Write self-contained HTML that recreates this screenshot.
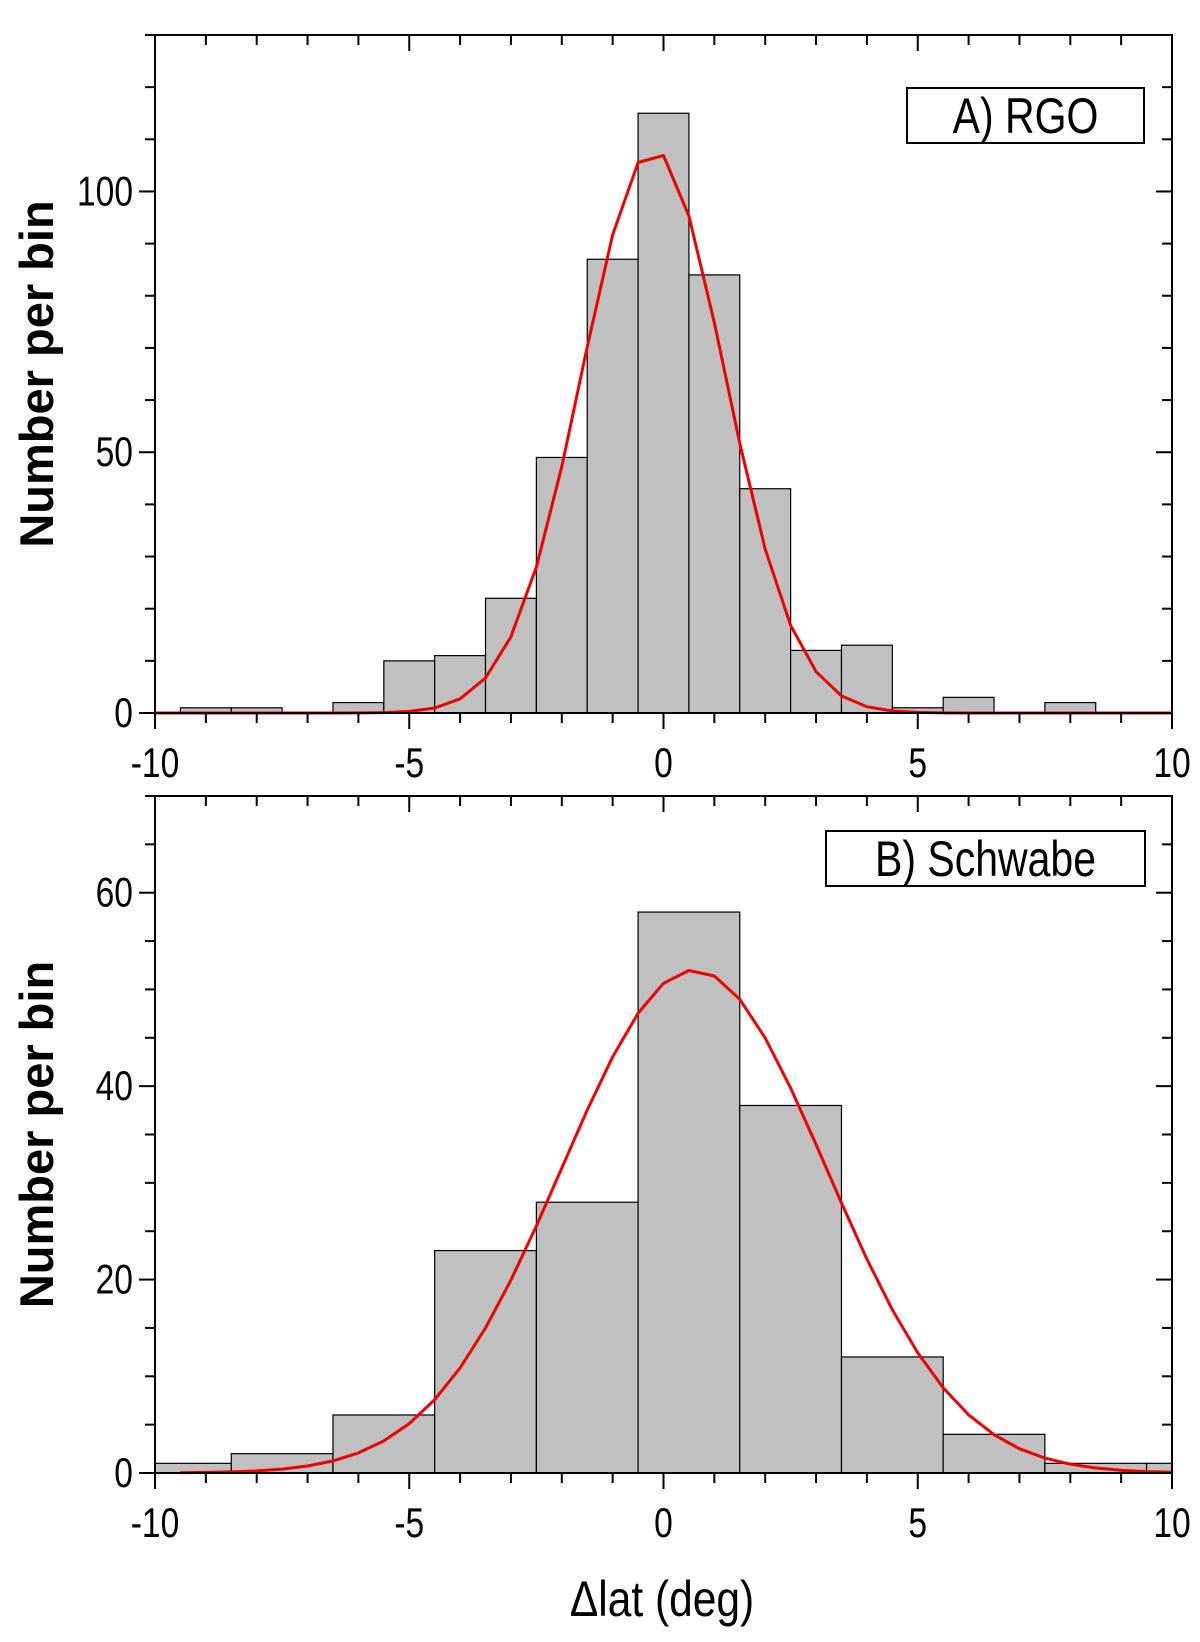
<!DOCTYPE html>
<html><head><meta charset="utf-8"><style>
html,body{margin:0;padding:0;background:#fff;}
svg{display:block;}
text{font-family:"Liberation Sans Narrow","Liberation Sans",sans-serif;fill:#000;}
.yt{font-family:"Liberation Sans",sans-serif;font-weight:bold;font-size:47px;}
</style></head><body>
<svg id="chart" width="1200" height="1642" viewBox="0 0 1200 1642" xmlns="http://www.w3.org/2000/svg"></svg>
<script>
// Panel A (RGO) data
const rgoCenters = [-9,-8,-7,-6,-5,-4,-3,-2,-1,0,1,2,3,4,5,6,7,8];
const rgoCounts  = [1,1,0,2,10,11,22,49,87,115,84,43,12,13,1,3,0,2];
const rgoFit = {amp:108, mu:-0.2, sigma:1.4};
const rgoYTicks = [0,50,100];
// Panel B (Schwabe) data
const swCenters = [-9.5,-7.5,-5.5,-3.5,-1.5,0.5,2.5,4.5,6.5,8.5,10.5];
const swCounts  = [1,2,6,23,28,58,38,12,4,1,1];
const swFit = {amp:52, mu:0.6, sigma:2.6};
const swYTicks = [0,20,40,60];
const xTicks = [-10,-5,0,5,10];

const NS='http://www.w3.org/2000/svg';
const svg=document.getElementById('chart');
function mk(tag,attrs,parent){const e=document.createElementNS(NS,tag);for(const k in attrs)e.setAttribute(k,attrs[k]);(parent||svg).appendChild(e);return e;}
// condensed text: place at (x,y) with horizontal squeeze
function ctext(parent,x,y,str,size,anchor,sx){
  const t=mk('text',{x:0,y:0,'text-anchor':anchor,'font-size':size,transform:`translate(${x},${y}) scale(${sx},1)`},parent);
  t.textContent=str;
  return t;
}

function panel(cfg){
  const g=mk('g',{});
  
  
  const L=155,R=1172,T=cfg.T,B=cfg.B;
  const xs=v=>L+(v+10)/20*(R-L);
  const ys=v=>B-v/cfg.ymax*(B-T);
  cfg.centers.forEach((c,i)=>{
    let x0=Math.max(-10,c-cfg.bw/2), x1=Math.min(10,c+cfg.bw/2);
    if(x1<=x0)return;
    const r=mk('rect',{x:xs(x0),y:ys(cfg.counts[i]),width:xs(x1)-xs(x0),height:ys(0)-ys(cfg.counts[i]),fill:'#c0c0c0',stroke:'#000','stroke-width':1.2},g);
    
    
  });
  let pts=[];
  for(let x=cfg.cx0;x<=cfg.cx1+1e-9;x+=0.5){
    const y=cfg.fit.amp*Math.exp(-Math.pow(x-cfg.fit.mu,2)/(2*cfg.fit.sigma*cfg.fit.sigma));
    pts.push(xs(x).toFixed(1)+','+ys(y).toFixed(1));
  }
  const pl=mk('polyline',{points:pts.join(' '),fill:'none',stroke:'#ee0000','stroke-width':3,'stroke-linejoin':'round'},g);
  
  
  const fr=mk('rect',{x:L,y:T,width:R-L,height:B-T,fill:'none',stroke:'#000','stroke-width':2},g);
  
  
  for(let v=-10;v<=10;v++){
    const big=v%5===0, len=big?16:10, x=xs(v);
    mk('line',{x1:x,y1:B,x2:x,y2:B+len,stroke:'#000','stroke-width':2},g);
    mk('line',{x1:x,y1:T,x2:x,y2:T+len,stroke:'#000','stroke-width':2},g);
  }
  xTicks.forEach(v=>{
    const t=ctext(g,xs(v),B+64,String(v),42,'middle',0.8);
    
    
  });
  for(let v=0;v<=cfg.ymax;v+=cfg.minor){
    const big=v%cfg.major===0,len=big?16:10,y=ys(v);
    mk('line',{x1:L-len,y1:y,x2:L,y2:y,stroke:'#000','stroke-width':2},g);
    mk('line',{x1:R-len,y1:y,x2:R,y2:y,stroke:'#000','stroke-width':2},g);
  }
  cfg.yticks.forEach(v=>{
    const t=ctext(g,L-22,ys(v)+14,String(v),42,'end',0.8);
    
    
  });
  const yt=mk('text',{class:'yt',x:0,y:0,'text-anchor':'middle',transform:`translate(53,${(T+B)/2}) rotate(-90)`},g);
  yt.textContent='Number per bin';
  
  
  const lg=mk('g',{},g);
  
  
  mk('rect',{x:cfg.lx,y:cfg.ly,width:cfg.lw,height:55,fill:'#fff',stroke:'#000','stroke-width':2},lg);
  ctext(lg,cfg.lx+cfg.lw/2,cfg.ly+45,cfg.label,50,'middle',0.82);
}
panel({name:'panel-a-rgo',T:35,B:713,ymax:130,minor:10,major:50,yticks:rgoYTicks,centers:rgoCenters,counts:rgoCounts,bw:1,fit:rgoFit,cx0:-10,cx1:10,lx:907,ly:88,lw:237,label:'A)  RGO'});
panel({name:'panel-b-schwabe',T:796,B:1473,ymax:70,minor:5,major:20,yticks:swYTicks,centers:swCenters,counts:swCounts,bw:2,fit:swFit,cx0:-9.5,cx1:10,lx:826,ly:831,lw:319,label:'B) Schwabe'});
const xt=ctext(svg,662,1616,'Δlat (deg)',50,'middle',0.85);


</script>
</body></html>
